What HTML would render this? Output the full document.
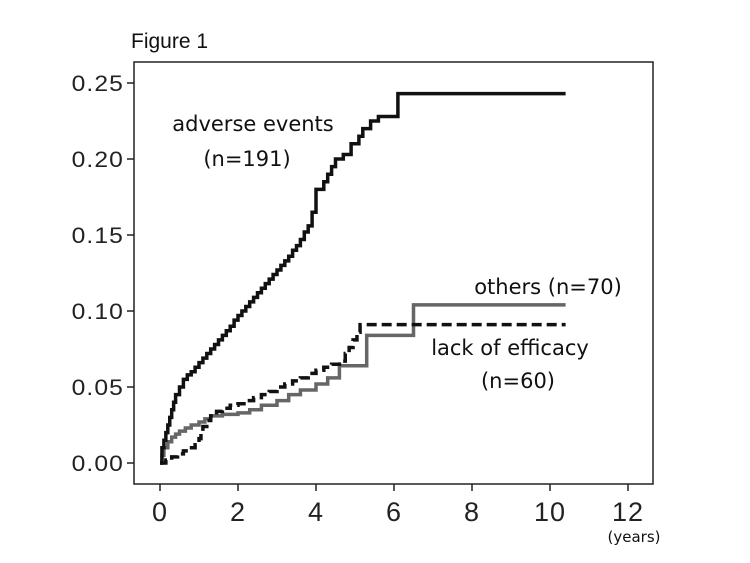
<!DOCTYPE html>
<html><head><meta charset="utf-8"><style>
body{margin:0;background:#fff;}
svg{display:block;}
.tk{font-family:"Liberation Sans",sans-serif;fill:#222;}
.lb{font-family:"DejaVu Sans","Liberation Sans",sans-serif;font-size:21px;fill:#111;}
</style></head><body>
<svg id="chart" width="750" height="563">
<text x="131" y="48" font-family="Liberation Sans, sans-serif" font-size="21" fill="#111">Figure 1</text>
<rect x="134" y="62" width="519" height="422" fill="none" stroke="#222" stroke-width="1.5"/>
<g id="axes"></g>
<g id="series"></g>
<text class="lb" x="253" y="131" text-anchor="middle">adverse events</text>
<text class="lb" x="247" y="166" text-anchor="middle">(n=191)</text>
<text class="lb" x="548" y="294" text-anchor="middle">others (n=70)</text>
<text class="lb" x="510" y="355" text-anchor="middle">lack of efficacy</text>
<text class="lb" x="518" y="388" text-anchor="middle">(n=60)</text>
<text x="634" y="542" text-anchor="middle" font-family="DejaVu Sans, sans-serif" font-size="15" fill="#111">(years)</text>
</svg>
<script>
const xTicks=[0,2,4,6,8,10,12];
const yTicks=[0,0.05,0.10,0.15,0.20,0.25];
const yTickLabels=["0.00","0.05","0.10","0.15","0.20","0.25"];
const tEnd=10.4;
const adverseT=[0,0.05,0.1,0.15,0.2,0.25,0.3,0.35,0.4,0.5,0.6,0.7,0.8,0.9,1,1.1,1.2,1.3,1.4,1.5,1.6,1.7,1.8,1.9,2,2.1,2.2,2.3,2.4,2.5,2.6,2.7,2.8,2.9,3,3.1,3.2,3.3,3.4,3.5,3.6,3.7,3.8,3.9,4,4.2,4.3,4.4,4.5,4.7,4.9,5.1,5.2,5.4,5.6,6.1];
const adverseY=[0,0.01,0.015,0.02,0.025,0.03,0.035,0.04,0.045,0.05,0.055,0.058,0.06,0.063,0.066,0.069,0.072,0.075,0.078,0.081,0.084,0.087,0.09,0.094,0.097,0.1,0.103,0.106,0.109,0.112,0.115,0.118,0.121,0.124,0.127,0.13,0.133,0.136,0.14,0.143,0.147,0.152,0.156,0.165,0.18,0.185,0.19,0.195,0.2,0.203,0.21,0.215,0.22,0.225,0.228,0.243];
const othersT=[0,0.05,0.1,0.2,0.3,0.4,0.5,0.65,0.8,1,1.15,1.3,1.6,2,2.3,2.6,3,3.3,3.6,4,4.3,4.6,5.3,6.5];
const othersY=[0,0.005,0.01,0.014,0.017,0.019,0.021,0.023,0.025,0.027,0.029,0.031,0.032,0.033,0.035,0.038,0.041,0.045,0.048,0.052,0.056,0.064,0.084,0.104];
const lackT=[0,0.15,0.3,0.45,0.6,0.75,0.9,1,1.05,1.1,1.2,1.3,1.45,1.6,1.8,2,2.2,2.4,2.6,2.8,3,3.2,3.4,3.6,3.8,4,4.2,4.4,4.6,4.75,4.85,4.95,5.05,5.13];
const lackY=[0,0.002,0.004,0.006,0.008,0.01,0.012,0.016,0.02,0.024,0.028,0.031,0.034,0.036,0.038,0.039,0.041,0.043,0.045,0.047,0.05,0.052,0.054,0.056,0.059,0.061,0.063,0.065,0.067,0.072,0.076,0.081,0.086,0.091];
const X=t=>160+t*39;
const Y=v=>463-v*1520;
const NS="http://www.w3.org/2000/svg";
const ax=document.getElementById('axes');
const sr=document.getElementById('series');
function mk(tag,attrs,parent){const e=document.createElementNS(NS,tag);for(const k in attrs)e.setAttribute(k,attrs[k]);parent.appendChild(e);return e;}
xTicks.forEach(t=>{
  const l=mk('line',{x1:X(t),x2:X(t),y1:484,y2:491,stroke:'#222','stroke-width':1.5},ax);
  
  
  const tx=mk('text',{x:X(t),y:521,'text-anchor':'middle',class:'tk',style:'font-size:27px;letter-spacing:1px'},ax);
  tx.textContent=t;
  
  
});
yTicks.forEach((v,i)=>{
  const l=mk('line',{x1:127,x2:134,y1:Y(v),y2:Y(v),stroke:'#222','stroke-width':1.5},ax);
  
  
  const tx=mk('text',{x:124,y:Y(v)+8,'text-anchor':'end',class:'tk',style:'font-size:22px;letter-spacing:1px',transform:'translate(124,0) scale(1.12,1) translate(-124,0)'},ax);
  tx.textContent=yTickLabels[i];
  
  
});
function stepPath(ts,ys){let d='M'+X(ts[0])+','+Y(ys[0]);for(let i=1;i<ts.length;i++){d+=' H'+X(ts[i])+' V'+Y(ys[i]);}d+=' H'+X(tEnd);return d;}
const p1=mk('path',{d:stepPath(othersT,othersY),fill:'none',stroke:'#666','stroke-width':3.5},sr);


const p2=mk('path',{d:stepPath(lackT,lackY),fill:'none',stroke:'#111','stroke-width':3.5,'stroke-dasharray':'10,5'},sr);


const p3=mk('path',{d:stepPath(adverseT,adverseY),fill:'none',stroke:'#111','stroke-width':3.5},sr);


</script>
</body></html>
